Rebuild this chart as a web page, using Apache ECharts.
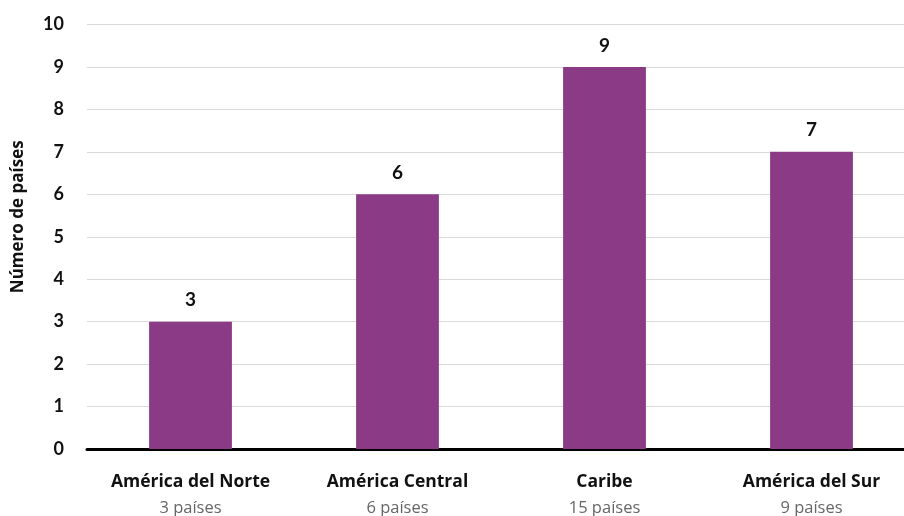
<!DOCTYPE html>
<html><head><meta charset="utf-8">
<script src="https://cdn.jsdelivr.net/npm/echarts@6/dist/echarts.min.js"></script>
<style>html,body{margin:0;padding:0;background:#fff}#c{width:904px;height:516px}</style>
</head><body><div id="c"></div>
<script>
const categories = ['América del Norte', 'América Central', 'Caribe', 'América del Sur'];
const subLabels = ['3 países', '6 países', '15 países', '9 países'];
const values = [3, 6, 9, 7];
const yTicks = [0, 1, 2, 3, 4, 5, 6, 7, 8, 9, 10];

const chart = echarts.init(document.getElementById('c'));
chart.setOption({
  animation: false,
  grid: { left: 87, right: -11, top: 24.5, bottom: 67, containLabel: false, outerBoundsMode: 'none' },
  xAxis: {
    type: 'category',
    data: categories,
    axisLine: { lineStyle: { color: '#000', width: 3 } },
    axisTick: { show: false },
    axisLabel: {
      margin: 20,
      interval: 0,
      formatter: (v, i) => '{a|' + v + '}\n{b|' + subLabels[i] + '}',
      rich: {
        a: { fontFamily: 'Open Sans', fontWeight: 'bold', fontSize: 17.5, color: '#111', lineHeight: 26 },
        b: { fontFamily: 'Open Sans', fontSize: 16.5, color: '#666', lineHeight: 26 }
      }
    }
  },
  yAxis: {
    type: 'value',
    min: yTicks[0], max: yTicks[yTicks.length - 1], interval: 1,
    name: 'Número de países',
    nameLocation: 'middle',
    nameGap: 60,
    nameTextStyle: { fontFamily: 'Open Sans', fontWeight: 'bold', fontSize: 17, color: '#111', padding: [0, 0, 0, 40] },
    axisLine: { show: false },
    axisTick: { show: false },
    axisLabel: { fontFamily: 'Lato', fontWeight: 'bold', fontSize: 18, color: '#111', margin: 23 },
    splitLine: { lineStyle: { color: '#d9d9d9', width: 1 } }
  },
  series: [{
    type: 'bar',
    data: values,
    barWidth: '40%',
    itemStyle: { color: '#8B3A86' },
    label: { show: true, position: 'top', distance: 12, fontFamily: 'Lato', fontWeight: 'bold', fontSize: 19, color: '#111' }
  }]
});
</script></body></html>
